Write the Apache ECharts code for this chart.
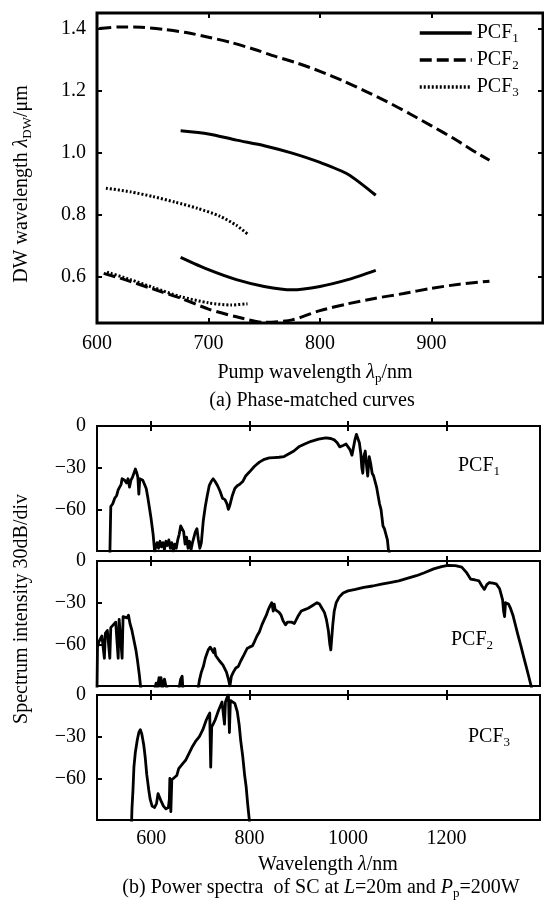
<!DOCTYPE html>
<html lang="en">
<head>
    <meta charset="UTF-8">
    <title>Phase-matched curves and SC spectra</title>
    <script type="text/javascript" src="https://cdn.jsdelivr.net/npm/echarts@6/dist/echarts.min.js"></script>
</head>
<style>
    html, body { margin: 0; padding: 0; background: #fff; }
    #container { width: 544px; height: 908px; }
</style>
<body>
<div id="container"></div>
<script>
    // (a) phase-matched curves: [pump wavelength nm, DW wavelength um]
    var pcf1Upper = [[675, 1.07], [700, 1.06], [725, 1.04], [750, 1.022], [775, 0.998], [800, 0.968], [825, 0.93], [850, 0.862]];
    var pcf1Lower = [[675, 0.662], [700, 0.622], [725, 0.59], [750, 0.568], [775, 0.557], [800, 0.568], [825, 0.59], [850, 0.62]];
    var pcf2Upper = [[602, 1.40], [620, 1.405], [640, 1.404], [660, 1.397], [680, 1.387], [700, 1.372], [720, 1.355], [740, 1.334],
        [760, 1.31], [780, 1.288], [800, 1.262], [820, 1.232], [840, 1.199], [860, 1.164], [880, 1.126], [900, 1.086],
        [920, 1.045], [940, 1.0], [952, 0.975]];
    var pcf2Lower = [[606, 0.61], [625, 0.59], [650, 0.56], [675, 0.53], [700, 0.495], [725, 0.47], [750, 0.452], [775, 0.46],
        [800, 0.49], [825, 0.512], [850, 0.53], [875, 0.545], [900, 0.562], [925, 0.575], [952, 0.585]];
    var pcf3Upper = [[608, 0.885], [630, 0.873], [650, 0.858], [670, 0.84], [690, 0.82], [710, 0.795], [725, 0.765], [735, 0.737]];
    var pcf3Lower = [[609, 0.614], [630, 0.59], [650, 0.565], [675, 0.535], [700, 0.515], [720, 0.508], [735, 0.512]];

    // (b) power spectra: [wavelength nm, intensity dB]
    var spec1 = [[516, -95], [518, -58], [522, -56], [526, -52], [530, -50], [533, -46], [536, -44], [539, -42], [541, -38],
        [543, -37], [546, -39], [550, -41], [553, -38], [556, -44], [559, -39], [562, -37], [565, -34], [568, -31],
        [571, -34], [573, -37], [575, -49], [577, -38], [580, -37], [583, -39], [586, -40], [590, -45], [593, -51],
        [597, -60], [600, -67], [604, -78], [607, -90], [609, -90], [612, -84], [615, -88], [618, -83], [621, -87],
        [624, -84], [627, -89], [630, -83], [633, -86], [636, -82], [639, -88], [642, -84], [645, -90], [648, -85],
        [651, -88], [654, -82], [657, -78], [660, -72], [663, -71], [666, -76], [669, -85], [672, -80], [675, -88],
        [678, -83], [681, -89], [684, -84], [687, -80], [690, -76], [693, -74], [696, -82], [699, -88], [702, -84],
        [706, -68], [710, -58], [714, -50], [718, -43], [722, -40], [726, -38], [730, -40], [735, -43], [740, -47],
        [745, -52], [750, -53], [754, -56], [757, -60], [760, -57], [765, -50], [770, -45], [775, -43], [780, -42],
        [786, -40], [792, -36], [800, -33], [810, -29], [820, -26], [830, -24], [840, -23], [850, -22.7], [860, -22.5],
        [870, -22], [880, -20], [890, -18], [900, -15], [912, -13], [925, -11], [940, -9.5], [955, -8.5], [965, -9],
        [972, -10], [978, -12], [983, -15], [990, -14], [996, -13], [1000, -15], [1004, -17], [1008, -21], [1011, -22],
        [1014, -10], [1017, -6], [1020, -6.5], [1023, -12], [1026, -20], [1028, -30], [1030, -34], [1032, -22],
        [1035, -18], [1038, -30], [1040, -36], [1043, -22], [1046, -27], [1049, -34], [1052, -36], [1055, -40],
        [1058, -44], [1061, -50], [1064, -56], [1067, -60], [1069, -66], [1071, -72], [1074, -74], [1078, -75],
        [1080, -82], [1082, -89], [1086, -90], [1088, -96]];
    var spec2 = [[490, -92], [491, -62], [494, -58], [497, -56], [500, -54], [503, -53], [505, -70], [507, -52], [511, -50],
        [515, -49], [516, -70], [518, -48], [523, -46], [528, -44], [532, -43], [533, -70], [535, -42], [539, -41],
        [541, -70], [543, -40], [547, -40], [551, -41], [554, -39], [557, -45], [561, -50], [565, -57], [569, -64],
        [572, -71], [576, -82], [579, -92], [606, -95], [610, -88], [613, -91], [616, -84], [618, -90], [620, -84],
        [623, -92], [627, -85], [630, -90], [640, -96], [655, -95], [660, -85], [663, -83], [665, -95],
        [694, -95], [698, -86], [702, -80], [706, -76], [710, -70], [713, -67], [716, -64], [720, -62], [724, -61],
        [727, -66], [729, -63], [731, -68], [735, -70], [739, -72], [742, -71], [746, -75], [750, -76], [753, -80],
        [757, -85], [760, -90], [763, -83], [767, -80], [772, -77], [777, -76], [782, -72], [788, -68], [795, -63],
        [800, -62], [806, -61], [810, -58], [815, -54], [820, -51], [825, -46], [830, -42], [834, -39], [838, -35],
        [842, -32], [845, -30], [848, -36], [850, -31], [852, -35], [856, -36], [860, -37], [864, -39], [868, -43],
        [873, -46], [877, -44], [880, -45], [885, -44], [891, -45], [898, -40], [905, -36], [912, -35], [919, -34],
        [928, -32], [937, -30], [942, -31], [947, -34], [952, -37], [956, -42], [960, -50], [963, -60], [965, -64],
        [967, -55], [969, -46], [972, -36], [976, -30], [982, -26], [990, -23], [1000, -21.5], [1015, -20.5],
        [1032, -19], [1050, -18], [1068, -16.7], [1085, -15.5], [1103, -14.3], [1120, -12.5], [1139, -10.6],
        [1155, -8.5], [1174, -5.7], [1190, -4], [1203, -3.2], [1218, -3.3], [1231, -4.4], [1240, -8], [1249, -13],
        [1257, -13.5], [1266, -14.3], [1272, -18], [1277, -20.4], [1282, -17], [1287, -15.5], [1294, -16],
        [1301, -16.5], [1308, -20], [1314, -28], [1316, -36], [1318, -40], [1320, -30], [1322, -29], [1326, -31],
        [1330, -34], [1335, -39], [1340, -46], [1345, -53], [1351, -61], [1356, -68], [1362, -76], [1367, -83],
        [1372, -90], [1375, -95]];
    var spec3 = [[560, -95], [561, -82], [563, -69], [565, -52], [568, -41], [572, -32], [575, -27], [578, -25], [581, -28],
        [585, -36], [588, -45], [591, -57], [595, -68], [598, -75], [602, -80], [607, -81], [611, -78], [614, -71],
        [618, -71], [621, -77], [625, -80], [630, -82], [635, -81], [637, -75], [638, -60], [640, -84], [642, -61],
        [646, -62], [652, -58], [656, -53], [660, -52], [665, -49], [670, -47], [677, -42], [684, -37], [691, -33],
        [698, -30], [705, -25], [712, -18], [716, -15], [719, -13], [721, -52], [723, -23], [726, -21], [730, -18],
        [737, -11], [744, -5], [747, -6], [749, -21], [751, -5], [754, -2], [757, 0], [759, -27], [761, -4], [765, -5],
        [770, -6], [775, -12], [779, -22], [782, -33], [786, -44], [790, -58], [793, -66], [796, -78], [798, -85],
        [801, -95]];

    var pumpTicks = [600, 700, 800, 900];
    var dwTicks = [0.6, 0.8, 1.0, 1.2, 1.4];
    var specXTicks = [600, 800, 1000, 1200];
    var specYTicks = [-60, -30, 0];
    var legendNames = ['PCF1', 'PCF2', 'PCF3'];

    var FONT = 'Liberation Serif';
    var chart = echarts.init(document.getElementById('container'), null, {renderer: 'canvas'});

    var plain = function (v) { return String(v); };
    var minus = function (v) { return v < 0 ? '\u2212' + Math.abs(v) : String(v); };
    var oneDec = function (v) { return v.toFixed(1); };

    function valueAxis(gridIndex, min, max, position, tickValues, labelValues, fmt) {
        return {
            type: 'value', gridIndex: gridIndex, min: min, max: max, position: position,
            axisLine: {show: false},
            splitLine: {show: false},
            axisTick: {show: true, inside: true, length: 5, customValues: tickValues, lineStyle: {color: '#000', width: 2}},
            axisLabel: {
                show: !!labelValues, customValues: labelValues || [], color: '#000',
                fontFamily: FONT, fontSize: 20, margin: 11, formatter: fmt || plain
            }
        };
    }

    var specTops = [426, 561, 695];
    var grids = [{left: 97, top: 13, width: 446, height: 310, show: true, borderColor: '#000', borderWidth: 3}];
    specTops.forEach(function (t) {
        grids.push({left: 97, top: t, width: 443, height: 125, show: true, borderColor: '#000', borderWidth: 2});
    });

    var xAxes = [
        valueAxis(0, 600, 1000, 'bottom', [700, 800, 900], pumpTicks),
        valueAxis(0, 600, 1000, 'top', [700, 800, 900], null)
    ];
    var yAxes = [
        valueAxis(0, 0.45, 1.45, 'left', dwTicks, dwTicks, oneDec),
        valueAxis(0, 0.45, 1.45, 'right', dwTicks, null)
    ];
    for (var g = 1; g <= 3; g++) {
        xAxes.push(valueAxis(g, 490, 1390, 'bottom', specXTicks, g === 3 ? specXTicks : null));
        xAxes.push(valueAxis(g, 490, 1390, 'top', specXTicks, null));
        yAxes.push(valueAxis(g, -90, 0, 'left', [-60, -30], specYTicks, minus));
    }
    xAxes[6].axisLabel.margin = 9;

    function curve(name, data, type) {
        return {
            name: name, type: 'line', xAxisIndex: 0, yAxisIndex: 0, data: data,
            symbol: 'none', smooth: 0.25, color: '#000',
            itemStyle: {color: '#000'},
            lineStyle: {color: '#000', width: 3, type: type}
        };
    }

    function spectrum(idx, data) {
        return {
            type: 'line', xAxisIndex: 2 * idx, yAxisIndex: idx + 1, data: data,
            symbol: 'none', clip: true, color: '#000',
            lineStyle: {color: '#000', width: 2.8, join: 'round'}
        };
    }

    var series = [
        curve('PCF1', pcf1Upper, 'solid'),
        curve('PCF2', pcf2Upper, [12, 5]),
        curve('PCF3', pcf3Upper, [2, 2]),
        curve('PCF1', pcf1Lower, 'solid'),
        curve('PCF2', pcf2Lower, [12, 5]),
        curve('PCF3', pcf3Lower, [2, 2]),
        spectrum(1, spec1),
        spectrum(2, spec2),
        spectrum(3, spec3)
    ];

    var sub = {fontFamily: FONT, fontSize: 13, lineHeight: 13, verticalAlign: 'bottom', fill: '#000', color: '#000'};
    var base = {fontFamily: FONT, fontSize: 20, lineHeight: 24, fill: '#000', color: '#000'};
    var ital = {fontFamily: FONT, fontSize: 20, lineHeight: 24, fontStyle: 'italic', fill: '#000', color: '#000'};
    var richSet = {n: base, i: ital, s: sub};

    function label(x, y, text, rot) {
        return {
            type: 'text', x: x, y: y, rotation: rot || 0,
            style: {text: text, rich: richSet, align: 'center', verticalAlign: 'middle', fill: '#000'}
        };
    }

    var option = {
        animation: false,
        grid: grids,
        xAxis: xAxes,
        yAxis: yAxes,
        legend: {
            data: legendNames, orient: 'vertical', left: 413, top: 18,
            itemWidth: 52, itemHeight: 12, itemGap: 5,
            itemStyle: {opacity: 0},
            lineStyle: {width: 3.5},
            formatter: function (n) { return '{n|PCF}{s|' + n.slice(3) + '}'; },
            textStyle: {rich: {n: base, s: sub}}
        },
        series: series,
        graphic: [
            label(22, 184, '{n|DW wavelength }{i|\u03bb}{s|DW}{n|/\u03bcm}', Math.PI / 2),
            label(315, 373, '{n|Pump wavelength }{i|\u03bb}{s|p}{n|/nm}'),
            label(312, 401, '{n|(a) Phase-matched curves}'),
            label(22, 609, '{n|Spectrum intensity 30dB/div}', Math.PI / 2),
            label(479, 466, '{n|PCF}{s|1}'),
            label(472, 640, '{n|PCF}{s|2}'),
            label(489, 737, '{n|PCF}{s|3}'),
            label(328, 865, '{n|Wavelength }{i|\u03bb}{n|/nm}'),
            label(321, 888, '{n|(b) Power spectra  of SC at }{i|L}{n|=20m and }{i|P}{s|p}{n|=200W}')
        ]
    };

    chart.setOption(option);
</script>
</body>
</html>
